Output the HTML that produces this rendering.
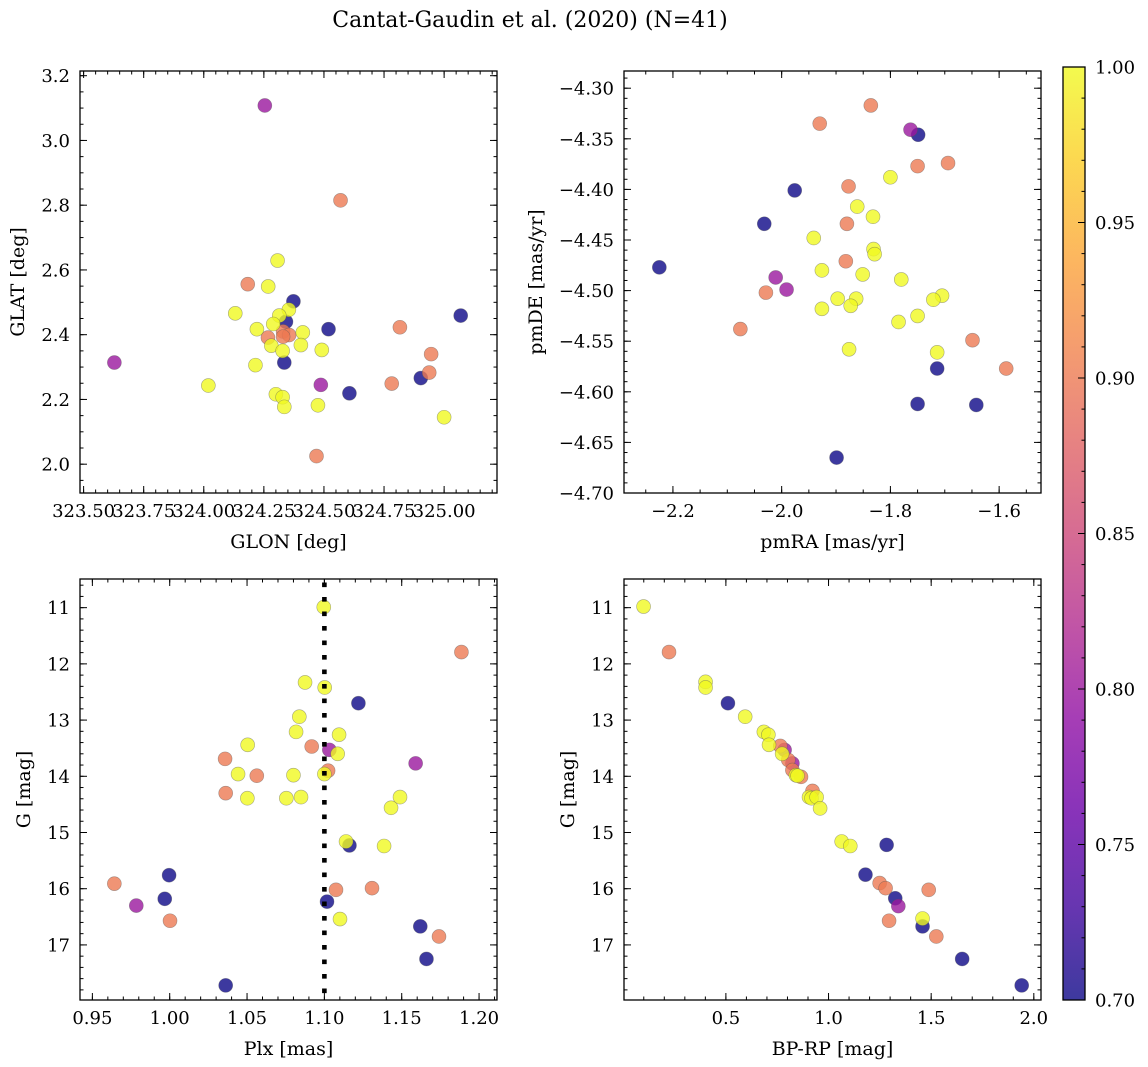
<!DOCTYPE html>
<html><head><meta charset="utf-8">
<style>
html,body{margin:0;padding:0;background:#fff;}
svg{display:block;font-family:"DejaVu Serif","Liberation Serif",serif;}
</style></head>
<body>
<svg id="fig" width="1148" height="1067" viewBox="0 0 1148 1067" xmlns="http://www.w3.org/2000/svg">
<rect width="1148" height="1067" fill="#fff"/>
<text x="530" y="27" font-size="22" text-anchor="middle">Cantat-Gaudin et al. (2020) (N=41)</text>
<defs>
<linearGradient id="cbgrad" x1="0" y1="1" x2="0" y2="0">
<stop offset="0" stop-color="#0d0887"/><stop offset="0.1" stop-color="#41049d"/><stop offset="0.2" stop-color="#6a00a8"/><stop offset="0.3" stop-color="#8f0da4"/><stop offset="0.4" stop-color="#b12a90"/><stop offset="0.5" stop-color="#cc4778"/><stop offset="0.6" stop-color="#e16462"/><stop offset="0.7" stop-color="#f2844b"/><stop offset="0.8" stop-color="#fca636"/><stop offset="0.9" stop-color="#fcce25"/><stop offset="1" stop-color="#f0f921"/>
</linearGradient>
</defs>
<g id="layer"></g>
</svg>
<script>
// Panel 1: GLON vs GLAT
const glon = [324.254,324.569,324.307,324.183,324.268,324.373,324.131,325.069,324.354,324.314,324.342,324.289,324.816,324.519,324.221,324.330,324.355,324.412,324.267,324.330,324.281,324.404,324.328,324.491,324.946,323.628,324.335,324.215,324.938,324.903,324.782,324.487,324.019,324.606,324.300,324.328,324.475,324.335,325.000,324.469];
const glat = [3.108,2.815,2.629,2.556,2.549,2.503,2.466,2.459,2.477,2.459,2.440,2.433,2.423,2.417,2.417,2.410,2.399,2.407,2.391,2.394,2.366,2.368,2.350,2.353,2.340,2.314,2.314,2.306,2.283,2.266,2.249,2.245,2.243,2.219,2.216,2.207,2.182,2.177,2.145,2.025];
const prob1 = [0.8,0.9,1,0.9,1,0.7,1,0.7,1,1,0.7,1,0.9,0.7,1,0.9,0.9,1,0.9,0.9,1,1,1,1,0.9,0.8,0.7,1,0.9,0.7,0.9,0.8,1,0.7,1,1,1,1,1,0.9];
// Panel 2: pmRA vs pmDE
const pmra = [-1.836,-1.930,-1.763,-1.749,-1.750,-1.694,-1.800,-1.976,-1.877,-1.861,-1.832,-2.032,-1.880,-1.941,-1.831,-1.829,-1.882,-2.225,-1.926,-1.851,-1.780,-2.011,-1.991,-2.029,-1.705,-1.897,-1.863,-1.721,-1.873,-1.926,-1.750,-1.785,-2.076,-1.649,-1.876,-1.714,-1.714,-1.587,-1.750,-1.642,-1.899];
const pmde = [-4.317,-4.335,-4.341,-4.346,-4.377,-4.374,-4.388,-4.401,-4.397,-4.417,-4.427,-4.434,-4.434,-4.448,-4.459,-4.464,-4.471,-4.477,-4.480,-4.484,-4.489,-4.487,-4.499,-4.502,-4.505,-4.508,-4.508,-4.509,-4.515,-4.518,-4.525,-4.531,-4.538,-4.549,-4.558,-4.561,-4.577,-4.577,-4.612,-4.613,-4.665];
const prob2 = [0.9,0.9,0.8,0.7,0.9,0.9,1,0.7,0.9,1,1,0.7,0.9,1,1,1,0.9,0.7,1,1,1,0.8,0.8,0.9,1,1,1,1,1,1,1,1,0.9,0.9,1,1,0.7,0.9,0.7,0.7,0.7];
// Panel 3: Plx vs G
const plx = [1.0996,1.1886,1.0875,1.1002,1.122,1.0838,1.0817,1.1095,1.0918,1.0504,1.1032,1.1086,1.0358,1.159,1.1024,1.0442,1.0563,1.080,1.100,1.0362,1.0502,1.0754,1.0849,1.1489,1.1431,1.114,1.1162,1.1386,0.9996,0.9642,1.1075,1.1308,0.9968,0.9784,1.1017,1.0002,1.1101,1.162,1.1741,1.166,1.0362];
const gmag3 = [10.99,11.79,12.33,12.42,12.70,12.94,13.21,13.26,13.47,13.44,13.53,13.60,13.69,13.77,13.90,13.96,13.99,13.98,13.96,14.30,14.39,14.39,14.37,14.37,14.56,15.16,15.23,15.24,15.76,15.91,16.02,15.99,16.18,16.30,16.23,16.57,16.54,16.67,16.85,17.25,17.72];
const prob3 = [1,0.9,1,1,0.7,1,1,1,0.9,1,0.8,1,0.9,0.8,0.9,1,0.9,1,1,0.9,1,1,1,1,1,1,0.7,1,0.7,0.9,0.9,0.9,0.7,0.8,0.7,0.9,1,0.7,0.9,0.7,0.7];
const plxCut = 1.10;
// Panel 4: BP-RP vs G
const bprp = [0.099,0.223,0.401,0.401,0.510,0.594,0.685,0.707,0.710,0.765,0.786,0.774,0.804,0.824,0.824,0.841,0.866,0.849,0.922,0.905,0.917,0.942,0.959,1.064,1.106,1.283,1.180,1.249,1.278,1.488,1.325,1.340,1.295,1.458,1.458,1.525,1.651,1.941];
const gmag4 = [10.98,11.79,12.32,12.42,12.70,12.94,13.21,13.26,13.44,13.46,13.53,13.60,13.71,13.77,13.89,13.98,14.01,13.99,14.26,14.37,14.39,14.37,14.57,15.16,15.24,15.22,15.75,15.90,15.99,16.02,16.17,16.31,16.57,16.67,16.53,16.85,17.25,17.72];
const prob4 = [1,0.9,1,1,0.7,1,1,1,1,0.9,0.8,1,0.9,0.8,0.9,1,0.9,1,0.9,1,1,1,1,1,1,0.7,0.7,0.9,0.9,0.9,0.7,0.8,0.9,0.7,1,0.9,0.7,0.7];
// Tick labels
const p1xTicks = [323.50,323.75,324.00,324.25,324.50,324.75,325.00];
const p1yTicks = [2.0,2.2,2.4,2.6,2.8,3.0,3.2];
const p2xTicks = [-2.2,-2.0,-1.8,-1.6];
const p2yTicks = [-4.70,-4.65,-4.60,-4.55,-4.50,-4.45,-4.40,-4.35,-4.30];
const p3xTicks = [0.95,1.00,1.05,1.10,1.15,1.20];
const gTicks = [11,12,13,14,15,16,17];
const p4xTicks = [0.5,1.0,1.5,2.0];
const cbTicks = [0.70,0.75,0.80,0.85,0.90,0.95,1.00];

const NS = "http://www.w3.org/2000/svg";
const layer = document.getElementById('layer');
const TICKFS = 18, LABELFS = 19;
function mk(tag, attrs, parent){
  const e = document.createElementNS(NS, tag);
  for (const k in attrs) e.setAttribute(k, attrs[k]);
  (parent||layer).appendChild(e);
  return e;
}
const stops = [[13,8,135],[65,4,157],[106,0,168],[143,13,164],[177,42,144],[204,71,120],[225,100,98],[242,132,75],[252,166,54],[252,206,37],[240,249,33]];
function plasma(t){
  t = Math.max(0, Math.min(1, t));
  const f = t*10, i = Math.min(9, Math.floor(f)), r = f - i;
  const a = stops[i], b = stops[i+1];
  return 'rgb(' + [0,1,2].map(k => Math.round(a[k] + (b[k]-a[k])*r)).join(',') + ')';
}
function cmap(p){ return plasma((p - 0.70) / 0.30); }
function fmt(v, d){ const s = v.toFixed(d); return v < 0 ? '\u2212' + s.slice(1) : s; }

function makeAxis(name, box, xd, yd, yInv){
  const sx = v => box.x0 + (v - xd[0]) / (xd[1] - xd[0]) * (box.x1 - box.x0);
  const sy = yInv ? (v => box.y0 + (v - yd[0]) / (yd[1] - yd[0]) * (box.y1 - box.y0))
                  : (v => box.y1 - (v - yd[0]) / (yd[1] - yd[0]) * (box.y1 - box.y0));
  const g = mk('g', {});
  
  
  return {g, sx, sy, box, xd, yd};
}
function drawTicks(ax, xMajor, xMinorStep, xDec, yMajor, yMinorStep, yDec, xname, yname){
  const {g, sx, sy, box, xd, yd} = ax;
  const tg = mk('g', {stroke:'#000', 'stroke-width':1}, g);
  
  
  const xlo = Math.min(xd[0], xd[1]), xhi = Math.max(xd[0], xd[1]);
  const ylo = Math.min(yd[0], yd[1]), yhi = Math.max(yd[0], yd[1]);
  for (let v = Math.ceil(xlo / xMinorStep - 1e-6) * xMinorStep; v <= xhi + 1e-9; v += xMinorStep){
    const x = sx(v);
    mk('line', {x1:x, x2:x, y1:box.y1, y2:box.y1-3.5}, tg);
    mk('line', {x1:x, x2:x, y1:box.y0, y2:box.y0+3.5}, tg);
  }
  for (let v = Math.ceil(ylo / yMinorStep - 1e-6) * yMinorStep; v <= yhi + 1e-9; v += yMinorStep){
    const y = sy(v);
    mk('line', {x1:box.x0, x2:box.x0+3.5, y1:y, y2:y}, tg);
    mk('line', {x1:box.x1, x2:box.x1-3.5, y1:y, y2:y}, tg);
  }
  xMajor.forEach(v => {
    const x = sx(v);
    mk('line', {x1:x, x2:x, y1:box.y1, y2:box.y1-7}, tg);
    mk('line', {x1:x, x2:x, y1:box.y0, y2:box.y0+7}, tg);
    const t = mk('text', {x:x, y:box.y1+24, 'font-size':TICKFS, 'text-anchor':'middle'}, g);
    t.textContent = fmt(v, xDec);
    
    
  });
  yMajor.forEach(v => {
    const y = sy(v);
    mk('line', {x1:box.x0, x2:box.x0+7, y1:y, y2:y}, tg);
    mk('line', {x1:box.x1, x2:box.x1-7, y1:y, y2:y}, tg);
    const t = mk('text', {x:box.x0-10, y:y+6.5, 'font-size':TICKFS, 'text-anchor':'end'}, g);
    t.textContent = fmt(v, yDec);
    
    
  });
  const xl = mk('text', {x:(box.x0+box.x1)/2, y:box.y1+55, 'font-size':LABELFS, 'text-anchor':'middle'}, g);
  xl.textContent = xname;
  
  
  const yw = ax.ylabelX;
  const yl = mk('text', {x:yw, y:(box.y0+box.y1)/2, 'font-size':LABELFS, 'text-anchor':'middle', transform:'rotate(-90 '+yw+' '+(box.y0+box.y1)/2+')'}, g);
  yl.textContent = yname;
  
  
}
function frame(ax){
  const b = ax.box;
  const r = mk('rect', {x:b.x0, y:b.y0, width:b.x1-b.x0, height:b.y1-b.y0, fill:'none', stroke:'#000', 'stroke-width':1.3}, ax.g);
  
  
}
function scatter(ax, xs, ys, ps){
  const n = Math.min(xs.length, ys.length, ps.length);
  const idx = [...Array(n).keys()].sort((a,b) => ps[a] - ps[b]);
  const pg = mk('g', {}, ax.g);
  
  
  idx.forEach(i => {
    const c = mk('circle', {cx:ax.sx(xs[i]), cy:ax.sy(ys[i]), r:7, fill:cmap(ps[i]), 'fill-opacity':0.8, stroke:'#555', 'stroke-opacity':0.5, 'stroke-width':0.6}, pg);
    
    
  });
}

// Panel 1
const ax1 = makeAxis('panel-glon-glat', {x0:80,x1:497,y0:71,y1:493}, [323.485,325.22], [1.911,3.2145], false);
ax1.ylabelX = 24;
scatter(ax1, glon, glat, prob1);
drawTicks(ax1, p1xTicks, 0.05, 2, p1yTicks, 0.05, 1, 'GLON [deg]', 'GLAT [deg]');
frame(ax1);

// Panel 2
const ax2 = makeAxis('panel-pmra-pmde', {x0:624,x1:1041,y0:71,y1:493}, [-2.29,-1.523], [-4.70,-4.283], false);
ax2.ylabelX = 542;
scatter(ax2, pmra, pmde, prob2);
drawTicks(ax2, p2xTicks, 0.05, 1, p2yTicks, 0.01, 2, 'pmRA [mas/yr]', 'pmDE [mas/yr]');
frame(ax2);

// Panel 3
const ax3 = makeAxis('panel-plx-g', {x0:80,x1:497,y0:579,y1:1000}, [0.942,1.2116], [10.49,17.98], true);
ax3.ylabelX = 30;
scatter(ax3, plx, gmag3, prob3);
{
  const xc = ax3.sx(plxCut);
  const l = mk('line', {x1:xc, x2:xc, y1:582.5, y2:1000, stroke:'#000', 'stroke-width':4.6, 'stroke-dasharray':'4.6 9.9'}, ax3.g);
  
  
}
drawTicks(ax3, p3xTicks, 0.01, 2, gTicks, 0.2, 0, 'Plx [mas]', 'G [mag]');
frame(ax3);

// Panel 4
const ax4 = makeAxis('panel-bprp-g', {x0:624,x1:1041,y0:579,y1:1000}, [0.0037,2.035], [10.49,17.98], true);
ax4.ylabelX = 574;
scatter(ax4, bprp, gmag4, prob4);
drawTicks(ax4, p4xTicks, 0.1, 1, gTicks, 0.2, 0, 'BP-RP [mag]', 'G [mag]');
frame(ax4);

// Colorbar
{
  const cb = mk('g', {});
  
  
  const x0 = 1063, x1 = 1085, y0 = 67, y1 = 1000;
  const cy = v => y1 - (v - 0.70) / 0.30 * (y1 - y0);
  mk('rect', {x:x0, y:y0, width:x1-x0, height:y1-y0, fill:'url(#cbgrad)', 'fill-opacity':0.8}, cb);
  for (let v = 0.70; v <= 1.0001; v += 0.01){
    mk('line', {x1:x1, x2:x1-3.5, y1:cy(v), y2:cy(v), stroke:'#000', 'stroke-width':1}, cb);
  }
  cbTicks.forEach(v => {
    mk('line', {x1:x1, x2:x1-7, y1:cy(v), y2:cy(v), stroke:'#000', 'stroke-width':1}, cb);
    const t = mk('text', {x:x1+10, y:cy(v)+6.5, 'font-size':TICKFS}, cb);
    t.textContent = v.toFixed(2);
    
    
  });
  mk('rect', {x:x0, y:y0, width:x1-x0, height:y1-y0, fill:'none', stroke:'#000', 'stroke-width':1.3}, cb);
}
</script>
</body></html>
